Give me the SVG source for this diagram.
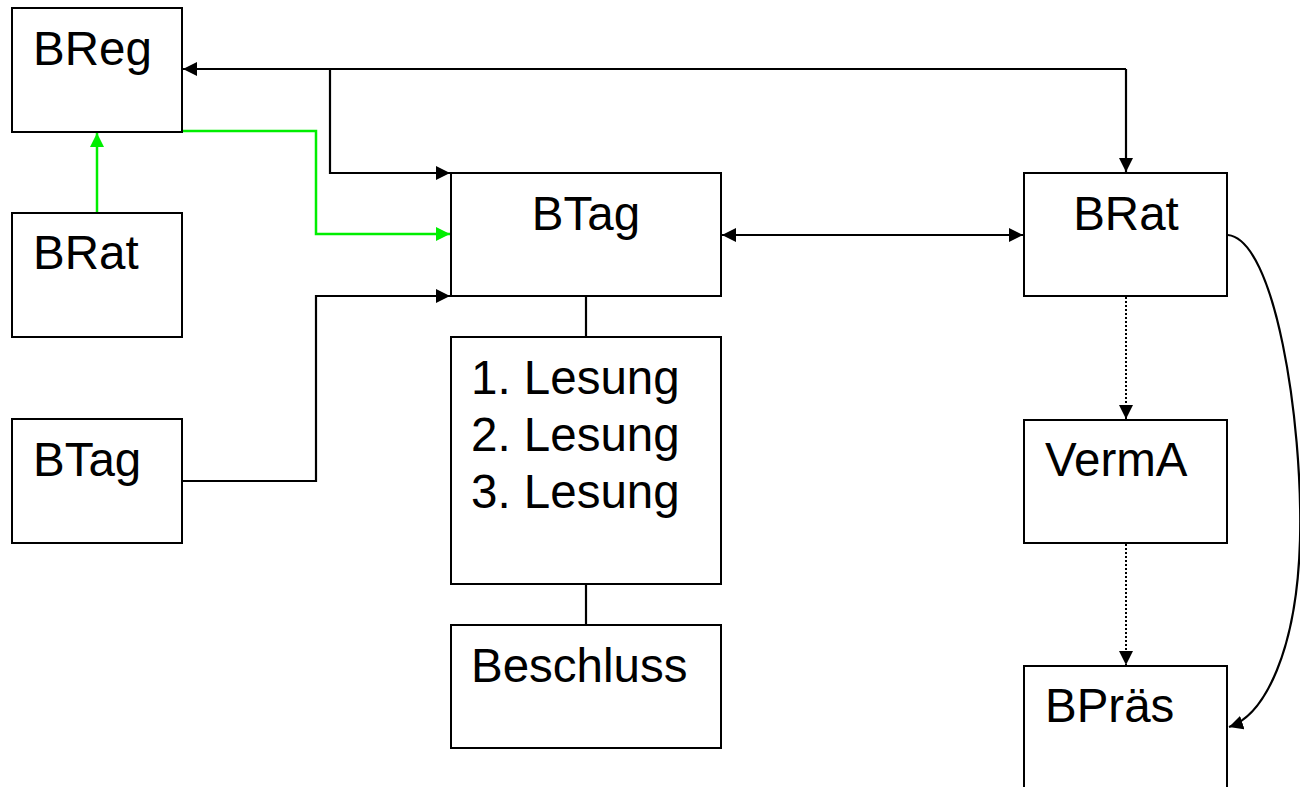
<svg xmlns="http://www.w3.org/2000/svg" width="1300" height="787" viewBox="0 0 1300 787">
<style>
.box{fill:#fff;stroke:#000;stroke-width:2}
.lbl{font-family:"Liberation Sans",Arial,sans-serif;font-size:47.5px;fill:#000}
.c{fill:none;stroke:#000;stroke-width:2.2}
.g{fill:none;stroke:#00ee00;stroke-width:2.5}
.d{fill:none;stroke:#000;stroke-width:2;stroke-dasharray:2,2}
</style>
<defs>
<marker id="ab" markerUnits="userSpaceOnUse" markerWidth="16" markerHeight="14" refX="14" refY="7" orient="auto-start-reverse"><path d="M0,0 L14,7 L0,14 Z" fill="#000"/></marker>
<marker id="ag" markerUnits="userSpaceOnUse" markerWidth="16" markerHeight="14" refX="14" refY="7" orient="auto"><path d="M0,0 L14,7 L0,14 Z" fill="#00ee00"/></marker>
</defs>
<g id="connectors">
<path class="c" d="M1126,69 L183,69" marker-end="url(#ab)"/>
<path class="c" d="M1126,69 L1126,172" marker-end="url(#ab)"/>
<path class="c" d="M330,69 L330,173 L450,173" marker-end="url(#ab)"/>
<path class="g" d="M182,131 L316,131 L316,234 L450,234" marker-end="url(#ag)"/>
<path class="g" d="M97,213 L97,133" marker-end="url(#ag)"/>
<path class="c" d="M182,481 L316,481 L316,296 L450,296" marker-end="url(#ab)"/>
<path class="c" d="M722,235 L1023,235" marker-start="url(#ab)" marker-end="url(#ab)"/>
<path class="c" d="M586,296 L586,337"/>
<path class="c" d="M586,584 L586,625"/>
<path class="d" d="M1126,297 L1126,419" marker-end="url(#ab)"/>
<path class="d" d="M1126,544 L1126,665" marker-end="url(#ab)"/>
<path class="c" d="M1228,235 C1275,240 1303,420 1300,540 C1297,650 1265,715 1229,727" marker-end="url(#ab)"/>
</g>
<g id="breg"><rect class="box" x="12" y="8" width="170" height="124"/><text class="lbl" x="33" y="65">BReg</text></g>
<g id="brat-left"><rect class="box" x="12" y="213" width="170" height="124"/><text class="lbl" x="33" y="269">BRat</text></g>
<g id="btag-left"><rect class="box" x="12" y="419" width="170" height="124"/><text class="lbl" x="33" y="476">BTag</text></g>
<g id="btag"><rect class="box" x="451" y="173" width="270" height="123"/><text class="lbl" x="586" y="230" text-anchor="middle">BTag</text></g>
<g id="lesung"><rect class="box" x="451" y="337" width="270" height="247"/><text class="lbl" x="471" y="394">1. Lesung</text><text class="lbl" x="471" y="451">2. Lesung</text><text class="lbl" x="471" y="508">3. Lesung</text></g>
<g id="beschluss"><rect class="box" x="451" y="625" width="270" height="123"/><text class="lbl" x="471" y="682">Beschluss</text></g>
<g id="brat"><rect class="box" x="1024" y="173" width="203" height="123"/><text class="lbl" x="1126" y="230" text-anchor="middle">BRat</text></g>
<g id="verma"><rect class="box" x="1024" y="420" width="203" height="123"/><text class="lbl" x="1045" y="476">VermA</text></g>
<g id="bpraes"><rect class="box" x="1024" y="666" width="203" height="140"/><text class="lbl" x="1045" y="722">BPräs</text></g>
</svg>
